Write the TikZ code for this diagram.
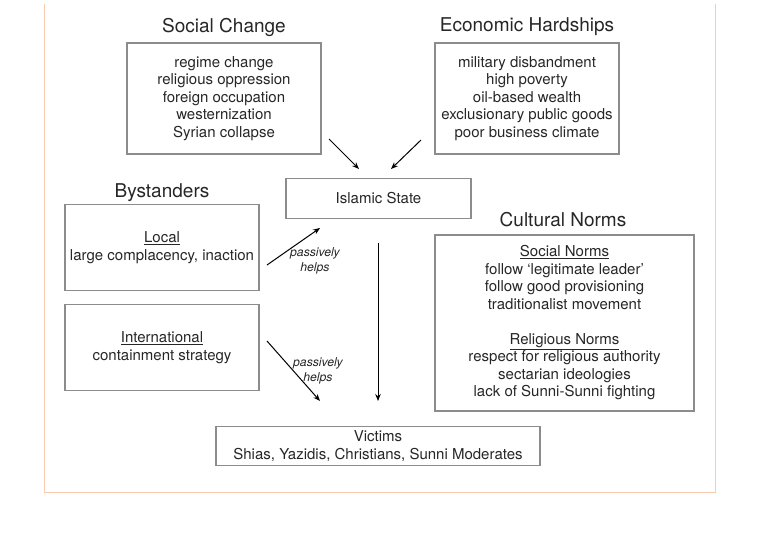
\documentclass[tikz,border=0pt]{standalone}
\usepackage{fontspec}
\setmainfont{TeX Gyre Heros}
\usetikzlibrary{positioning,arrows.meta}
\definecolor{boxgray}{HTML}{8C8C8C}
\definecolor{txtgray}{HTML}{262626}
\definecolor{framepeach}{HTML}{F6CBAE}

\begin{document}
\begin{tikzpicture}[x=1pt,y=-1pt,>={Stealth[length=7pt,width=5.5pt]},
    every node/.style={text=txtgray},
    box/.style={draw=boxgray, line width=1.1pt, inner sep=0pt, align=center,
                font=\fontsize{15}{17.5}\selectfont},
    title/.style={font=\fontsize{19}{22}\selectfont},
    helps/.style={align=center, font=\fontsize{12.2}{15}\selectfont\itshape},
    arr/.style={->, line width=1pt, black}]
                \useasboundingbox (0,0) rectangle (760,539);
                \draw[framepeach, line width=0.8pt] (44,4) -- (44,492) -- (715,492) -- (715,4);

                \node[title] (tsc) at (224,27) {Social Change};
                \node[title] (teh) at (527,27) {Economic Hardships};
                \node[title] (tby) at (162,193) {Bystanders};
                \node[title] (tcn) at (563,220) {Cultural Norms};

                \node[box, minimum width=194, minimum height=111] (sc) at (224,98.5)
                    {regime change\\religious oppression\\foreign occupation\\westernization\\Syrian collapse};
                \node[box, minimum width=184, minimum height=111] (eh) at (527,98.5)
                    {military disbandment\\high poverty\\oil-based wealth\\exclusionary public goods\\poor business climate};
                \node[box, minimum width=185, minimum height=40] (is) at (378.5,198.5) {Islamic State};
                \node[box, minimum width=194, minimum height=86] (loc) at (162,247.5)
                    {\underline{Local}\\large complacency, inaction};
                \node[box, minimum width=194, minimum height=86] (intl) at (162,347.5)
                    {\underline{International}\\containment strategy};
                \node[box, minimum width=259, minimum height=176] (cn) at (564.5,323)
                    {\underline{Social Norms}\\follow `legitimate leader'\\follow good provisioning\\traditionalist movement\\[17.5pt]
                     \underline{Religious Norms}\\respect for religious authority\\sectarian ideologies\\lack of Sunni-Sunni fighting};
                \node[box, minimum width=324, minimum height=39] (vic) at (378,446)
                    {Victims\\Shias, Yazidis, Christians, Sunni Moderates};

                \coordinate (sc-o) at (329,139);
                \coordinate (sc-i) at (359,169);
                \coordinate (eh-o) at (421,140);
                \coordinate (eh-i) at (391,169);
                \coordinate (loc-o) at (267,265);
                \coordinate (loc-i) at (320,228);
                \coordinate (intl-o) at (267,341);
                \coordinate (intl-i) at (320,401);
                \coordinate (is-o) at (378,243);
                \coordinate (vic-i) at (378,401);

                \draw[arr] (sc-o)--(sc-i);
                \draw[arr] (eh-o)--(eh-i);
                \draw[arr] (loc-o)--(loc-i);
                \draw[arr] (intl-o)--(intl-i);
                \draw[arr] (is-o)--(vic-i);

                \node[helps] (h1) at (315,261) {passively\\helps};
                \node[helps] (h2) at (318,370.5) {passively\\helps};
            \end{tikzpicture}
\end{document}
